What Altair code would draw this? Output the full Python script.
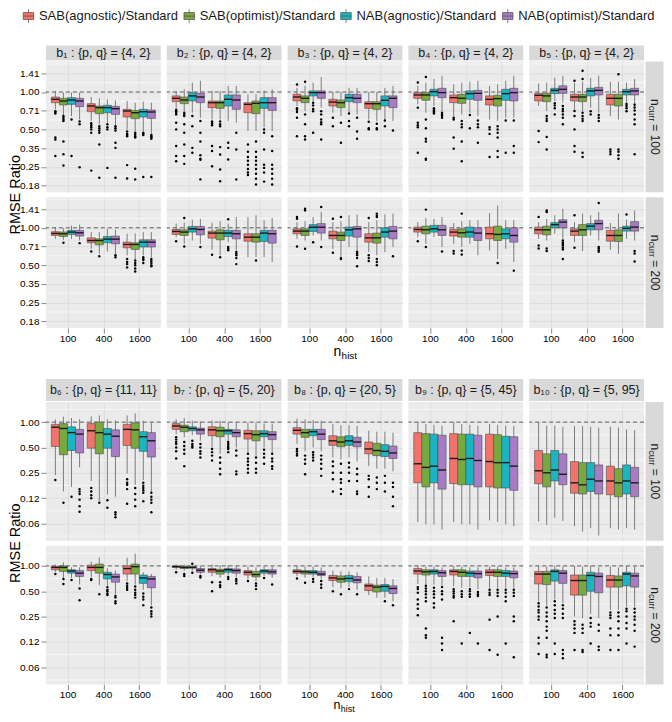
import altair as alt
import pandas as pd

SERIES = ["SAB(agnostic)/Standard", "SAB(optimist)/Standard",
          "NAB(agnostic)/Standard", "NAB(optimist)/Standard"]
COLORS = ["#F1736B", "#78A93E", "#19B5C0", "#A87CC5"]
N_HIST = ["100", "400", "1600"]
N_CURR = ["100", "200"]
STRIPS_TOP = ["b₁ : {p, q} = {4, 2}", "b₂ : {p, q} = {4, 2}", "b₃ : {p, q} = {4, 2}",
              "b₄ : {p, q} = {4, 2}", "b₅ : {p, q} = {4, 2}"]
STRIPS_BOT = ["b₆ : {p, q} = {11, 11}", "b₇ : {p, q} = {5, 20}", "b₈ : {p, q} = {20, 5}",
              "b₉ : {p, q} = {5, 45}", "b₁₀ : {p, q} = {5, 95}"]
TOP_TICKS = [0.17678, 0.25, 0.35355, 0.5, 0.70711, 1.0, 1.41421]
TOP_TICK_LABELS = ["0.18", "0.25", "0.35", "0.50", "0.71", "1.00", "1.41"]
BOT_TICKS = [0.0625, 0.125, 0.25, 0.5, 1.0]
BOT_TICK_LABELS = ["0.06", "0.12", "0.25", "0.50", "1.00"]

# each row: (lower whisker, q1, median, q3, upper whisker)
# order: n_hist 100 [S1..S4], 400 [S1..S4], 1600 [S1..S4]
B1_100 = [(0.725, 0.820, 0.873, 0.911, 1.02), (0.652, 0.786, 0.846, 0.889, 0.988),
          (0.641, 0.795, 0.862, 0.900, 0.988), (0.600, 0.762, 0.846, 0.889, 0.988),
          (0.584, 0.694, 0.771, 0.805, 0.911), (0.549, 0.669, 0.748, 0.771, 0.889),
          (0.566, 0.681, 0.748, 0.781, 0.873), (0.542, 0.660, 0.734, 0.766, 0.857),
          (0.500, 0.629, 0.703, 0.725, 0.846), (0.485, 0.610, 0.681, 0.711, 0.820),
          (0.485, 0.629, 0.694, 0.725, 0.836), (0.462, 0.613, 0.690, 0.716, 0.820)]
B1_100_OUT = [[0.70, 0.69, 0.67, 0.43, 0.415, 0.305], [0.64, 0.62, 0.60, 0.585, 0.40, 0.315, 0.256],
              [0.60, 0.305], [0.58, 0.55, 0.248],
              [0.56, 0.54, 0.52, 0.50, 0.47, 0.233], [0.53, 0.51, 0.49, 0.47, 0.378, 0.204],
              [0.55, 0.52, 0.50, 0.245], [0.53, 0.51, 0.49, 0.39, 0.355, 0.204],
              [0.48, 0.46, 0.45, 0.44, 0.258, 0.201], [0.47, 0.455, 0.44, 0.43, 0.241, 0.198],
              [0.47, 0.46, 0.45, 0.207], [0.45, 0.44, 0.43, 0.42, 0.207]]
B2_100 = [(0.748, 0.836, 0.889, 0.930, 1.02), (0.703, 0.805, 0.862, 0.911, 1.05),
          (0.681, 0.846, 0.930, 0.988, 1.19), (0.620, 0.820, 0.911, 0.975, 1.23),
          (0.600, 0.748, 0.820, 0.846, 1.02), (0.600, 0.738, 0.820, 0.846, 1.02),
          (0.584, 0.771, 0.873, 0.946, 1.12), (0.566, 0.725, 0.862, 0.946, 1.12),
          (0.485, 0.681, 0.795, 0.820, 0.957), (0.485, 0.669, 0.810, 0.846, 0.957),
          (0.520, 0.738, 0.820, 0.900, 1.03), (0.485, 0.711, 0.820, 0.900, 1.05)]
B2_100_OUT = [[0.72, 0.70, 0.68, 0.66, 0.566, 0.50, 0.367, 0.305, 0.277],
              [0.68, 0.66, 0.64, 0.549, 0.47, 0.378, 0.305, 0.264],
              [0.641, 0.53, 0.355, 0.324], [0.584, 0.47, 0.40, 0.31, 0.29, 0.285, 0.198],
              [0.58, 0.56, 0.54, 0.367, 0.335, 0.253], [0.58, 0.55, 0.53, 0.36, 0.314, 0.238, 0.191],
              [0.39, 0.355, 0.286], [0.47, 0.345, 0.198],
              [0.378, 0.33, 0.30, 0.28, 0.26, 0.24, 0.225, 0.215],
              [0.40, 0.33, 0.30, 0.28, 0.26, 0.24, 0.22, 0.20, 0.18],
              [0.50, 0.47, 0.345, 0.26, 0.245, 0.225, 0.19], [0.44, 0.335, 0.26, 0.24, 0.22, 0.20, 0.18]]
B3_100 = [(0.771, 0.846, 0.911, 0.957, 1.08), (0.703, 0.820, 0.889, 0.930, 1.12),
          (0.846, 0.930, 0.988, 1.02, 1.19), (0.748, 0.889, 0.988, 1.02, 1.32),
          (0.681, 0.771, 0.830, 0.873, 1.00), (0.641, 0.748, 0.820, 0.862, 1.00),
          (0.681, 0.836, 0.900, 0.957, 1.08), (0.660, 0.820, 0.889, 0.957, 1.08),
          (0.600, 0.738, 0.805, 0.836, 1.00), (0.584, 0.725, 0.805, 0.836, 1.00),
          (0.600, 0.771, 0.857, 0.930, 1.08), (0.584, 0.748, 0.889, 0.930, 1.12)]
B3_100_OUT = [[1.15, 0.74, 0.72, 0.69, 0.62, 0.44], [1.21, 0.66, 0.55, 0.44, 0.415],
              [0.82, 0.78, 0.73, 0.70, 0.47], [0.70, 0.66, 0.60, 0.57, 0.55, 0.415],
              [0.62, 0.53], [0.566, 0.39], [0.67, 0.584, 0.53], [0.62, 0.48, 0.42],
              [0.576, 0.51, 0.50], [0.555, 0.51, 0.50], [0.59, 0.53], [0.49]]
B4_100 = [(0.795, 0.889, 0.946, 0.988, 1.12), (0.681, 0.857, 0.946, 0.988, 1.19),
          (0.771, 0.930, 1.006, 1.05, 1.27), (0.703, 0.900, 0.988, 1.07, 1.35),
          (0.641, 0.820, 0.900, 0.946, 1.15), (0.660, 0.810, 0.889, 0.957, 1.19),
          (0.681, 0.873, 0.970, 1.02, 1.21), (0.641, 0.857, 0.975, 1.03, 1.23),
          (0.600, 0.786, 0.873, 0.930, 1.12), (0.584, 0.771, 0.884, 0.940, 1.15),
          (0.620, 0.857, 0.970, 1.05, 1.23), (0.620, 0.846, 0.988, 1.07, 1.35)]
B4_100_OUT = [[1.19, 0.748, 0.566, 0.54, 0.52, 0.324], [1.32, 0.60, 0.51, 0.42, 0.40, 0.29, 0.285],
              [0.74, 0.72, 0.70, 0.68, 0.67], [0.68, 0.66, 0.64, 0.62],
              [0.62, 0.60, 0.43, 0.35], [0.584, 0.55, 0.52, 0.40, 0.277],
              [0.652, 0.51], [0.59, 0.55, 0.52, 0.39],
              [0.52, 0.50, 0.46, 0.30], [0.53, 0.50, 0.47, 0.43, 0.335, 0.30],
              [0.59, 0.324], [0.59, 0.367, 0.324]]
B5_100 = [(0.771, 0.846, 0.940, 0.975, 1.17), (0.703, 0.836, 0.930, 0.975, 1.19),
          (0.846, 0.970, 1.03, 1.07, 1.30), (0.820, 0.975, 1.05, 1.12, 1.35),
          (0.725, 0.846, 0.911, 0.957, 1.19), (0.703, 0.836, 0.911, 0.957, 1.21),
          (0.748, 0.930, 1.02, 1.07, 1.30), (0.681, 0.946, 1.03, 1.09, 1.35),
          (0.641, 0.786, 0.889, 0.957, 1.21), (0.600, 0.771, 0.889, 0.957, 1.21),
          (0.820, 0.946, 1.006, 1.05, 1.19), (0.795, 0.946, 1.02, 1.07, 1.27)]
B5_100_OUT = [[0.485, 0.395], [0.64, 0.61, 0.584, 0.434, 0.345],
              [0.81, 0.78, 0.74, 0.66], [0.77, 0.73, 0.70, 0.66, 0.62, 0.55],
              [1.23, 0.703, 0.641, 0.50, 0.367, 0.33], [1.48, 1.27, 0.68, 0.64, 0.61, 0.584, 0.324, 0.30],
              [0.70, 0.66], [0.652, 0.62, 0.584],
              [0.345, 0.33, 0.315], [1.39, 0.345, 0.33, 0.31, 0.29],
              [0.80, 0.77, 0.74, 0.70], [0.79, 0.75, 0.71, 0.66, 0.60, 0.55, 0.315]]

B1_200 = [(0.815, 0.867, 0.900, 0.930, 1.01), (0.800, 0.850, 0.895, 0.925, 0.99),
          (0.815, 0.884, 0.923, 0.952, 1.04), (0.790, 0.857, 0.911, 0.952, 1.06),
          (0.677, 0.757, 0.790, 0.830, 0.923), (0.617, 0.729, 0.790, 0.815, 0.923),
          (0.645, 0.757, 0.810, 0.850, 0.980), (0.617, 0.743, 0.810, 0.857, 0.963),
          (0.600, 0.690, 0.734, 0.766, 0.895), (0.560, 0.669, 0.734, 0.757, 0.900),
          (0.600, 0.700, 0.766, 0.800, 0.923), (0.580, 0.700, 0.766, 0.800, 0.923)]
B1_200_OUT = [[], [0.757], [], [0.752], [0.645], [0.59], [], [0.60, 0.58],
              [0.56, 0.53, 0.51, 0.48], [0.545, 0.52, 0.50, 0.47, 0.445],
              [0.58, 0.56, 0.55, 0.52], [0.56, 0.54, 0.52, 0.50, 0.49]]
B2_200 = [(0.840, 0.884, 0.934, 0.970, 1.08), (0.743, 0.867, 0.923, 0.963, 1.10),
          (0.790, 0.923, 0.980, 1.025, 1.16), (0.743, 0.878, 0.970, 1.025, 1.18),
          (0.665, 0.825, 0.906, 0.940, 1.10), (0.600, 0.800, 0.906, 0.963, 1.13),
          (0.766, 0.850, 0.906, 0.952, 1.08), (0.660, 0.815, 0.895, 0.952, 1.22),
          (0.580, 0.780, 0.840, 0.895, 1.22), (0.580, 0.766, 0.840, 0.895, 1.26),
          (0.580, 0.776, 0.906, 0.952, 1.15), (0.530, 0.752, 0.895, 0.952, 1.20)]
B2_200_OUT = [[0.78], [1.20, 0.707], [], [0.70], [0.606], [0.58],
              [1.17, 0.70, 0.68, 0.66], [0.64, 0.62, 0.60, 0.57, 0.51], [], [0.545], [], []]
B3_200 = [(0.815, 0.895, 0.940, 0.980, 1.11), (0.790, 0.867, 0.940, 0.980, 1.13),
          (0.867, 0.934, 1.01, 1.06, 1.22), (0.790, 0.906, 1.01, 1.08, 1.34),
          (0.677, 0.815, 0.867, 0.940, 1.11), (0.580, 0.790, 0.867, 0.923, 1.13),
          (0.700, 0.857, 0.963, 1.012, 1.26), (0.645, 0.840, 0.980, 1.025, 1.28),
          (0.637, 0.766, 0.830, 0.895, 1.11), (0.600, 0.752, 0.830, 0.906, 1.15),
          (0.637, 0.840, 0.923, 1.00, 1.28), (0.700, 0.815, 0.940, 1.025, 1.30)]
B3_200_OUT = [[1.22, 1.18, 0.707], [1.42, 1.38, 0.677], [0.766], [1.47, 0.70],
              [1.18, 0.63], [1.22, 0.57, 0.56], [], [0.64, 0.62, 0.60, 0.57, 0.49],
              [1.20, 0.60, 0.57, 0.54], [1.30, 1.25, 1.22, 0.56, 0.53, 0.50], [], [0.59]]
B4_200 = [(0.840, 0.923, 0.970, 1.012, 1.11), (0.743, 0.895, 0.963, 1.03, 1.20),
          (0.840, 0.923, 0.980, 1.045, 1.18), (0.700, 0.867, 0.963, 1.045, 1.22),
          (0.743, 0.857, 0.923, 0.970, 1.09), (0.700, 0.840, 0.911, 0.980, 1.13),
          (0.743, 0.840, 0.923, 1.012, 1.15), (0.600, 0.790, 0.906, 1.000, 1.15),
          (0.657, 0.815, 0.895, 1.012, 1.31), (0.560, 0.790, 0.884, 1.03, 1.51),
          (0.677, 0.815, 0.895, 0.980, 1.15), (0.530, 0.766, 0.867, 1.000, 1.15)]
B4_200_OUT = [[0.78], [1.40, 0.70], [], [0.645], [0.65, 0.62], [1.30, 0.655, 0.61],
              [], [], [], [0.52], [], [0.452]]
B5_200 = [(0.815, 0.895, 0.963, 1.012, 1.11), (0.790, 0.878, 0.963, 1.03, 1.18),
          (0.895, 1.00, 1.06, 1.10, 1.26), (0.815, 1.00, 1.11, 1.16, 1.42),
          (0.766, 0.867, 0.940, 0.980, 1.11), (0.650, 0.867, 0.963, 1.06, 1.30),
          (0.867, 0.963, 1.03, 1.08, 1.26), (0.790, 0.963, 1.08, 1.15, 1.34),
          (0.665, 0.780, 0.867, 0.952, 1.09), (0.617, 0.776, 0.867, 0.963, 1.30),
          (0.815, 0.940, 0.990, 1.03, 1.16), (0.790, 0.940, 1.012, 1.12, 1.38)]
B5_200_OUT = [[1.22, 0.72, 0.68], [1.38, 1.34, 0.68, 0.65], [],
              [0.79, 0.76, 0.74, 0.72, 0.69, 0.67, 0.56], [1.26, 0.69], [], [],
              [1.58, 0.70, 0.68, 0.66, 0.64], [], [], [1.28], [0.65, 0.62, 0.535]]

B6_100 = [(0.235, 0.513, 0.87, 0.94, 1.08), (0.150, 0.410, 0.84, 0.96, 1.16),
          (0.170, 0.460, 0.75, 0.88, 1.12), (0.290, 0.430, 0.72, 0.82, 1.08),
          (0.200, 0.490, 0.79, 0.96, 1.17), (0.115, 0.420, 0.75, 1.00, 1.20),
          (0.137, 0.490, 0.72, 0.84, 1.08), (0.130, 0.390, 0.68, 0.81, 1.04),
          (0.245, 0.527, 0.82, 0.94, 1.20), (0.180, 0.490, 0.81, 0.98, 1.27),
          (0.205, 0.450, 0.67, 0.77, 1.04), (0.150, 0.385, 0.60, 0.75, 0.98)]
B6_100_OUT = [[0.205], [0.11], [0.13], [0.16, 0.15, 0.14, 0.12, 0.10, 0.086],
              [0.165, 0.15, 0.135, 0.125], [0.11], [0.118, 0.096], [0.085, 0.08, 0.074],
              [0.21, 0.19, 0.18, 0.16, 0.107], [0.165, 0.14, 0.12, 0.10],
              [0.19, 0.175, 0.165, 0.155, 0.145, 0.115], [0.145, 0.13, 0.12, 0.11, 0.085]]
B7_100 = [(0.72, 0.82, 0.90, 0.96, 1.08), (0.66, 0.77, 0.87, 0.92, 1.12),
          (0.70, 0.79, 0.84, 0.88, 1.04), (0.60, 0.72, 0.81, 0.85, 1.02),
          (0.50, 0.69, 0.81, 0.88, 1.05), (0.42, 0.67, 0.79, 0.87, 1.04),
          (0.60, 0.72, 0.79, 0.82, 1.00), (0.50, 0.67, 0.75, 0.81, 1.00),
          (0.44, 0.63, 0.73, 0.80, 0.98), (0.40, 0.60, 0.71, 0.79, 0.98),
          (0.50, 0.67, 0.73, 0.79, 0.96), (0.44, 0.62, 0.71, 0.77, 0.96)]
B7_100_OUT = [[0.66, 0.62, 0.58, 0.55, 0.50, 0.45, 0.37], [0.58, 0.52, 0.47, 0.42, 0.30],
              [0.60, 0.55, 0.52, 0.50], [0.55, 0.50, 0.45, 0.42, 0.38],
              [0.48, 0.44, 0.40, 0.35], [0.38, 0.33, 0.28, 0.24],
              [0.58, 0.55, 0.52, 0.50, 0.48, 0.44], [0.46, 0.40, 0.26, 0.24],
              [0.42, 0.37, 0.34, 0.31, 0.28, 0.25], [0.38, 0.33, 0.28, 0.25],
              [0.47, 0.42, 0.38, 0.32], [0.42, 0.37, 0.34, 0.30, 0.28]]
B8_100 = [(0.55, 0.72, 0.80, 0.86, 1.10), (0.45, 0.66, 0.75, 0.82, 1.08),
          (0.50, 0.69, 0.77, 0.82, 1.06), (0.45, 0.62, 0.72, 0.82, 1.04),
          (0.38, 0.53, 0.60, 0.69, 0.95), (0.36, 0.51, 0.58, 0.67, 0.92),
          (0.38, 0.53, 0.60, 0.69, 0.92), (0.34, 0.51, 0.58, 0.66, 0.90),
          (0.30, 0.42, 0.48, 0.58, 0.79), (0.28, 0.40, 0.46, 0.56, 0.77),
          (0.28, 0.39, 0.45, 0.54, 0.77), (0.26, 0.37, 0.43, 0.52, 0.75)]
B8_100_OUT = [[0.48, 0.45, 0.42, 0.40], [0.40, 0.36, 0.32, 0.24], [0.44, 0.41, 0.38, 0.35],
              [0.40, 0.36, 0.32, 0.28, 0.23], [0.34, 0.30, 0.25, 0.21, 0.15],
              [0.32, 0.25, 0.21, 0.19, 0.16, 0.14], [0.33, 0.29, 0.25, 0.20],
              [0.28, 0.24, 0.20, 0.15, 0.14], [0.23, 0.21, 0.17, 0.13], [0.22, 0.19, 0.16],
              [0.23, 0.19, 0.15], [0.19, 0.17, 0.13, 0.10]]
B9_100 = [(0.065, 0.19, 0.32, 0.75, 1.00), (0.061, 0.17, 0.29, 0.73, 0.95),
          (0.061, 0.19, 0.30, 0.72, 0.93), (0.053, 0.16, 0.27, 0.70, 0.91),
          (0.065, 0.186, 0.37, 0.73, 1.00), (0.061, 0.18, 0.36, 0.72, 0.95),
          (0.061, 0.18, 0.37, 0.72, 0.93), (0.053, 0.17, 0.35, 0.70, 0.91),
          (0.068, 0.17, 0.34, 0.72, 0.95), (0.065, 0.165, 0.33, 0.71, 0.93),
          (0.061, 0.165, 0.33, 0.68, 0.91), (0.058, 0.155, 0.30, 0.67, 0.90)]
B9_100_OUT = [[], [], [], [], [], [], [], [], [], [], [], []]
B10_100 = [(0.066, 0.185, 0.264, 0.46, 1.00), (0.060, 0.17, 0.25, 0.42, 0.91),
           (0.073, 0.20, 0.27, 0.46, 0.91), (0.067, 0.18, 0.24, 0.42, 0.88),
           (0.058, 0.143, 0.19, 0.34, 0.90), (0.050, 0.14, 0.18, 0.33, 0.90),
           (0.055, 0.15, 0.21, 0.33, 0.88), (0.045, 0.14, 0.20, 0.31, 0.86),
           (0.055, 0.137, 0.20, 0.30, 0.88), (0.053, 0.13, 0.19, 0.28, 0.86),
           (0.055, 0.14, 0.20, 0.31, 0.82), (0.053, 0.13, 0.19, 0.29, 0.80)]
B10_100_OUT = [[], [], [], [], [], [], [], [], [], [], [], []]

B6_200 = [(0.85, 0.90, 0.96, 0.99, 1.04), (0.72, 0.86, 0.96, 1.00, 1.10),
          (0.72, 0.82, 0.87, 0.90, 0.96), (0.60, 0.75, 0.82, 0.88, 0.96),
          (0.74, 0.88, 0.96, 1.02, 1.12), (0.59, 0.82, 0.96, 1.05, 1.26),
          (0.58, 0.70, 0.79, 0.84, 0.94), (0.46, 0.64, 0.74, 0.80, 0.88),
          (0.66, 0.80, 0.93, 1.00, 1.25), (0.60, 0.80, 0.98, 1.05, 1.40),
          (0.52, 0.62, 0.72, 0.78, 0.84), (0.34, 0.55, 0.70, 0.75, 0.80)]
B6_200_OUT = [[0.80], [0.70, 0.61], [0.68], [0.54, 0.39], [0.70, 0.68], [0.46],
              [0.56, 0.52, 0.50, 0.47, 0.45], [0.44, 0.42, 0.38, 0.36],
              [0.62, 0.58, 0.55, 0.52], [0.57, 0.52, 0.48, 0.45, 0.42],
              [0.47, 0.43, 0.40, 0.34], [0.32, 0.29, 0.27, 0.25]]
B7_200 = [(0.90, 0.96, 0.98, 1.00, 1.04), (0.88, 0.93, 0.96, 0.99, 1.04),
          (0.88, 0.94, 0.96, 0.98, 1.02), (0.80, 0.84, 0.89, 0.93, 1.00),
          (0.76, 0.84, 0.90, 0.93, 1.04), (0.72, 0.80, 0.87, 0.91, 1.02),
          (0.78, 0.84, 0.90, 0.93, 1.02), (0.74, 0.82, 0.88, 0.92, 1.02),
          (0.70, 0.78, 0.84, 0.88, 0.98), (0.66, 0.74, 0.79, 0.86, 0.96),
          (0.76, 0.82, 0.87, 0.90, 0.98), (0.72, 0.80, 0.85, 0.90, 0.98)]
B7_200_OUT = [[0.84], [0.80, 0.76], [1.06, 0.83], [0.76, 0.73], [0.64, 0.50],
              [0.64, 0.59, 0.56], [0.74, 0.70], [0.70, 0.66, 0.62], [0.66],
              [0.62, 0.58, 0.53], [0.72], [0.60]]
B8_200 = [(0.76, 0.82, 0.86, 0.90, 1.00), (0.72, 0.80, 0.85, 0.88, 0.98),
          (0.74, 0.80, 0.84, 0.88, 0.98), (0.70, 0.77, 0.80, 0.86, 0.96),
          (0.56, 0.67, 0.72, 0.77, 0.88), (0.54, 0.64, 0.70, 0.76, 0.86),
          (0.56, 0.65, 0.71, 0.77, 0.86), (0.52, 0.63, 0.68, 0.75, 0.84),
          (0.45, 0.51, 0.58, 0.61, 0.75), (0.42, 0.49, 0.56, 0.59, 0.72),
          (0.42, 0.50, 0.57, 0.60, 0.72), (0.38, 0.47, 0.54, 0.58, 0.70)]
B8_200_OUT = [[0.71], [0.63], [0.70, 0.65], [0.66, 0.60, 0.55], [0.50], [0.46],
              [0.53], [0.46], [], [], [0.38], [0.34]]
B9_200 = [(0.61, 0.80, 0.87, 0.93, 1.00), (0.61, 0.78, 0.85, 0.90, 0.98),
          (0.60, 0.80, 0.86, 0.90, 0.98), (0.58, 0.75, 0.83, 0.88, 0.96),
          (0.57, 0.78, 0.86, 0.90, 0.99), (0.55, 0.75, 0.84, 0.90, 0.98),
          (0.56, 0.75, 0.82, 0.87, 0.96), (0.53, 0.72, 0.81, 0.87, 0.96),
          (0.55, 0.77, 0.84, 0.90, 0.98), (0.55, 0.75, 0.84, 0.90, 0.98),
          (0.55, 0.75, 0.82, 0.88, 0.96), (0.55, 0.72, 0.81, 0.87, 0.96)]
B9_200_OUT = [[0.56, 0.53, 0.48, 0.40, 0.35, 0.31, 0.26],
              [0.58, 0.54, 0.50, 0.46, 0.42, 0.38, 0.18, 0.15, 0.14],
              [0.55, 0.50, 0.46, 0.42, 0.36, 0.32], [0.56, 0.50, 0.46, 0.40, 0.14, 0.12, 0.10],
              [0.53, 0.50, 0.47, 0.44, 0.42, 0.22], [0.50, 0.46, 0.43, 0.12],
              [0.53, 0.50, 0.46, 0.43, 0.16], [0.49, 0.46, 0.44, 0.12],
              [0.52, 0.48, 0.45, 0.23, 0.10], [0.52, 0.48, 0.44, 0.25, 0.088],
              [0.52, 0.48, 0.43, 0.38, 0.12], [0.52, 0.48, 0.44, 0.25, 0.22, 0.082]]
B10_200 = [(0.375, 0.61, 0.80, 0.86, 1.00), (0.34, 0.60, 0.80, 0.86, 0.98),
           (0.40, 0.66, 0.86, 0.90, 1.00), (0.36, 0.62, 0.82, 0.88, 0.98),
           (0.25, 0.45, 0.67, 0.78, 1.00), (0.24, 0.45, 0.67, 0.78, 0.98),
           (0.27, 0.50, 0.77, 0.84, 1.00), (0.24, 0.48, 0.75, 0.82, 0.96),
           (0.30, 0.56, 0.68, 0.77, 0.98), (0.30, 0.56, 0.68, 0.76, 0.96),
           (0.33, 0.58, 0.80, 0.84, 1.00), (0.33, 0.56, 0.76, 0.82, 0.98)]
B10_200_OUT = [[0.36, 0.33, 0.30, 0.28, 0.25, 0.23, 0.14, 0.12, 0.09],
               [0.32, 0.28, 0.25, 0.22, 0.19, 0.17, 0.14, 0.088, 0.082],
               [0.38, 0.34, 0.30, 0.27, 0.24, 0.12, 0.09], [0.34, 0.31, 0.27, 0.24, 0.10, 0.09, 0.08],
               [0.22, 0.20, 0.18, 0.16, 0.10], [0.20, 0.18, 0.16, 0.10, 0.095],
               [0.24, 0.21, 0.19, 0.12], [0.20, 0.17, 0.11, 0.10],
               [0.28, 0.26, 0.24, 0.18, 0.15, 0.10], [0.28, 0.25, 0.22, 0.18, 0.15, 0.10],
               [0.31, 0.29, 0.25, 0.21, 0.18, 0.12], [0.31, 0.28, 0.25, 0.23, 0.20, 0.17, 0.11]]

TOP_STATS = [[B1_100, B2_100, B3_100, B4_100, B5_100], [B1_200, B2_200, B3_200, B4_200, B5_200]]
TOP_OUTS = [[B1_100_OUT, B2_100_OUT, B3_100_OUT, B4_100_OUT, B5_100_OUT],
            [B1_200_OUT, B2_200_OUT, B3_200_OUT, B4_200_OUT, B5_200_OUT]]
BOT_STATS = [[B6_100, B7_100, B8_100, B9_100, B10_100], [B6_200, B7_200, B8_200, B9_200, B10_200]]
BOT_OUTS = [[B6_100_OUT, B7_100_OUT, B8_100_OUT, B9_100_OUT, B10_100_OUT],
            [B6_200_OUT, B7_200_OUT, B8_200_OUT, B9_200_OUT, B10_200_OUT]]

FONT = "Liberation Sans"
W = 115
ROW_GAP = 5
COL_GAP = 6
SPACER_H = 64
BOX_PATH = "M-0.75,-0.5H0.75V0.5H-0.75Z M-0.75,0H0.75 M0,-0.5V-1 M0,0.5V1"


def minors(ticks, dom):
    ms = [(a * b) ** 0.5 for a, b in zip(ticks, ticks[1:])]
    step = ticks[1] / ticks[0]
    ms += [ticks[-1] * step ** 0.5, ticks[0] / step ** 0.5]
    return [m for m in ms if dom[0] < m < dom[1]]


TOP_CFG = dict(name="top", H=131, dom=[0.156, 1.76], ticks=TOP_TICKS, labels=TOP_TICK_LABELS,
               strip_h=15, title_dy=24, title_size=14, sub_size=10)
BOT_CFG = dict(name="bot", H=139, dom=[0.039, 1.737], ticks=BOT_TICKS, labels=BOT_TICK_LABELS,
               strip_h=22, title_dy=21, title_size=12.5, sub_size=9)

LEGEND = alt.Legend(orient="none", legendX=-25, legendY=-53, direction="horizontal", title=None,
                    symbolType=BOX_PATH, symbolSize=196, symbolStrokeColor="#4d4d4d",
                    symbolStrokeWidth=0.7, symbolOpacity=1, labelFont=FONT, labelFontSize=13,
                    labelColor="#1a1a1a", labelOffset=3, columnPadding=3, padding=0, labelLimit=200)

CALC = dict(xc="datum.gi + 1 + (datum.si - 1.5) * 0.225",
            xl="datum.gi + 1 + (datum.si - 1.5) * 0.225 - 0.1125",
            xr="datum.gi + 1 + (datum.si - 1.5) * 0.225 + 0.1125")
ONE = pd.DataFrame({"o": [0]})
PANEL_VIEW = alt.ViewBackground(fill="#EBEBEB", stroke=None)
EMPTY_VIEW = alt.ViewBackground(fillOpacity=0, strokeOpacity=0)


def txt(label, x, y, size, angle=0, align="center", color="#1a1a1a"):
    return alt.Chart(ONE).mark_text(font=FONT, fontSize=size, color=color, angle=angle,
                                    align=align, baseline="middle").encode(
        x=alt.value(x), y=alt.value(y), text=alt.value(label))


def panel(stats, outs, cfg, r, c, strip_label):
    H = cfg["H"]
    box_df = pd.DataFrame([
        {"gi": k // 4, "si": k % 4, "series": SERIES[k % 4],
         "lo": s[0], "q1": s[1], "med": s[2], "q3": s[3], "hi": s[4]}
        for k, s in enumerate(stats)])
    out_df = pd.DataFrame([
        {"gi": k // 4, "si": k % 4, "series": SERIES[k % 4], "v": v}
        for k, vs in enumerate(outs) for v in vs], columns=["gi", "si", "series", "v"])

    show_x = r == 1
    show_y = c == 0
    xs = alt.Scale(domain=[0.4, 3.6], nice=False, zero=False)
    ys = alt.Scale(type="log", domain=cfg["dom"], nice=False)
    xa = alt.Axis(values=[1, 2, 3], labelExpr=str(N_HIST) + "[datum.value - 1]",
                  grid=True, labels=show_x, ticks=show_x, domain=False, title=None, labelPadding=0)
    ya = alt.Axis(values=cfg["ticks"],
                  labelExpr=str(cfg["labels"]) + "[indexof(" + str(cfg["ticks"]) + ", datum.value)]",
                  grid=True, labels=show_y, ticks=show_y, domain=False, title=None, labelPadding=2)

    layers = []
    minor_df = pd.DataFrame({"m": minors(cfg["ticks"], cfg["dom"])})
    layers.append(alt.Chart(minor_df).mark_rule(color="white", strokeWidth=0.6)
                  .encode(y=alt.Y("m:Q", scale=ys, axis=ya)))
    layers.append(alt.Chart(pd.DataFrame({"ref": [1.0]}))
                  .mark_rule(color="#505050", strokeDash=[4, 3], strokeWidth=0.9)
                  .encode(y=alt.Y("ref:Q", scale=ys, axis=ya)))
    base = alt.Chart(box_df).transform_calculate(**CALC)
    layers.append(base.mark_rule(color="#707070", strokeWidth=0.9).encode(
        x=alt.X("xc:Q", scale=xs, axis=xa), y=alt.Y("lo:Q", scale=ys, axis=ya), y2="hi:Q"))
    layers.append(base.mark_rect(stroke="#4d4d4d", strokeWidth=0.6).encode(
        x=alt.X("xl:Q", scale=xs, axis=xa), x2="xr:Q",
        y=alt.Y("q1:Q", scale=ys, axis=ya), y2="q3:Q",
        color=alt.Color("series:N", scale=alt.Scale(domain=SERIES, range=COLORS), legend=LEGEND)))
    layers.append(base.mark_rule(color="#1a1a1a", strokeWidth=1.4).encode(
        x=alt.X("xl:Q", scale=xs, axis=xa), x2="xr:Q", y=alt.Y("med:Q", scale=ys, axis=ya)))
    if len(out_df):
        layers.append(alt.Chart(out_df).transform_calculate(**CALC)
                      .mark_circle(size=6, color="black", opacity=1)
                      .encode(x=alt.X("xc:Q", scale=xs, axis=xa), y=alt.Y("v:Q", scale=ys, axis=ya)))
    if r == 0:
        sh = cfg["strip_h"]
        layers.append(alt.Chart(ONE).mark_rect(fill="#D9D9D9").encode(
            x=alt.value(0), x2=alt.value(W), y=alt.value(-sh - 1), y2=alt.value(-1)))
        layers.append(txt(strip_label, W / 2, -1 - sh / 2, 12.5))
    if c == 4:
        layers.append(alt.Chart(ONE).mark_rect(fill="#D9D9D9").encode(
            x=alt.value(W + 1.5), x2=alt.value(W + 19.5), y=alt.value(0), y2=alt.value(H)))
        y0 = H / 2 - 28
        cx = W + 10.5
        layers.append(txt("n", cx, y0, 12, angle=90, align="left"))
        layers.append(txt("curr", cx - 3, y0 + 6.8, 9, angle=90, align="left"))
        layers.append(txt("= " + N_CURR[r], cx, y0 + 25.5, 12, angle=90, align="left"))
    if r == 0 and c == 0:
        layers.append(txt("RMSE Ratio", -30, H + ROW_GAP / 2, 14.5, angle=270, color="black"))
    if r == 1 and c == 2:
        ts = cfg["title_size"]
        layers.append(txt("n", W / 2 - 11.5, H + cfg["title_dy"], ts, align="left", color="black"))
        layers.append(txt("hist", W / 2 - 11.5 + 0.58 * ts, H + cfg["title_dy"] + 3.5,
                          cfg["sub_size"], align="left", color="black"))
    return alt.layer(*layers).properties(width=W, height=H, view=PANEL_VIEW)


def empty(h):
    return (alt.Chart(ONE).mark_point(opacity=0)
            .encode(x=alt.value(0), y=alt.value(0))
            .properties(width=W, height=h, view=EMPTY_VIEW))


cells = []
for r in range(2):
    for c in range(5):
        cells.append(panel(TOP_STATS[r][c], TOP_OUTS[r][c], TOP_CFG, r, c, STRIPS_TOP[c]))
cells += [empty(SPACER_H) for _ in range(5)]
for r in range(2):
    for c in range(5):
        cells.append(panel(BOT_STATS[r][c], BOT_OUTS[r][c], BOT_CFG, r, c, STRIPS_BOT[c]))

chart = (alt.concat(*cells, columns=5, spacing={"row": ROW_GAP, "column": COL_GAP},
                    bounds="flush", padding=0)
         .configure_view(stroke=None)
         .configure_axis(gridColor="white", gridWidth=1.1, tickColor="#333333", tickSize=3.5,
                         tickWidth=0.8, labelFont=FONT, labelFontSize=11.5, labelColor="#4d4d4d")
         .configure(font=FONT))

chart.save("out.html", embed_options={"renderer": "svg", "actions": False})
